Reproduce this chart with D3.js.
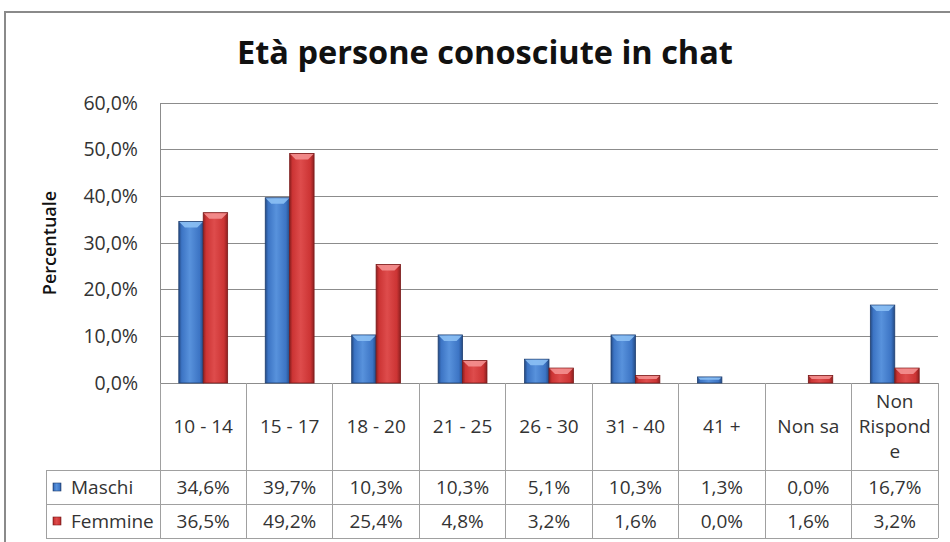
<!DOCTYPE html>
<html><head><meta charset="utf-8">
<script src="https://cdn.jsdelivr.net/npm/d3@7"></script>
<style>
html,body{margin:0;padding:0;background:#fff;}
text{font-family:"Open Sans",sans-serif;}
</style></head>
<body>
<svg id="chart" width="950" height="542"></svg>
<script>
const title = "Età persone conosciute in chat";
const yAxisTitle = "Percentuale";
const categories = ["10 - 14","15 - 17","18 - 20","21 - 25","26 - 30","31 - 40","41 +","Non sa","Non Risponde"];
const categoryLines = [["10 - 14"],["15 - 17"],["18 - 20"],["21 - 25"],["26 - 30"],["31 - 40"],["41 +"],["Non sa"],["Non","Rispond","e"]];
const seriesNames = ["Maschi","Femmine"];
const maschi = [34.6,39.7,10.3,10.3,5.1,10.3,1.3,0.0,16.7];
const femmine = [36.5,49.2,25.4,4.8,3.2,1.6,0.0,1.6,3.2];
const yTicks = [0,10,20,30,40,50,60];
const seriesValues = [maschi, femmine];

const FONT = "'Open Sans',sans-serif";
const svg = d3.select("#chart");
const fmt = v => d3.format(".1f")(v).replace(".", ",") + "%";

const plotL = 160, plotR = 938, plotT = 103, plotB = 383;
const catRowB = 470, row1B = 504, row2B = 538, legendL = 46;

const x = d3.scaleBand().domain(categories).range([plotL, plotR]).padding(0);
const bw = x.bandwidth();
const xs = d3.scaleBand().domain(seriesNames).range([bw*0.2175, bw*0.7825]).padding(0);
const y = d3.scaleLinear().domain([0,60]).range([plotB, plotT]);

// gradients
const defs = svg.append("defs");
const pal = {
  Maschi: {dark:"#244a84", mid:"#3c74c4", light:"#5892dc", top:"#8cc0f4", edge:"#1f3f70"},
  Femmine:{dark:"#8e2020", mid:"#cc3434", light:"#de4c4c", top:"#f49090", edge:"#7a1a1a"}
};
seriesNames.forEach((s,i)=>{
  const g = defs.append("linearGradient").attr("id","g"+i).attr("x1","0").attr("x2","1").attr("y1","0").attr("y2","0");
  g.append("stop").attr("offset","0").attr("stop-color",pal[s].dark);
  g.append("stop").attr("offset","0.12").attr("stop-color",pal[s].mid);
  g.append("stop").attr("offset","0.45").attr("stop-color",pal[s].light);
  g.append("stop").attr("offset","0.85").attr("stop-color",pal[s].mid);
  g.append("stop").attr("offset","1").attr("stop-color",pal[s].dark);
});

// outer frame
svg.append("rect").attr("x",5).attr("y",12).attr("width",980).attr("height",600)
  .attr("fill","#fff").attr("stroke","#8a8a8a").attr("stroke-width",2);

// title
svg.append("text").attr("x",485).attr("y",64).attr("text-anchor","middle")
  .attr("font-size",32.5).attr("font-weight","bold").attr("fill","#111").text(title);

// gridlines
svg.append("g").selectAll("line").data(yTicks).join("line")
  .attr("x1",plotL).attr("x2",plotR).attr("y1",d=>y(d)).attr("y2",d=>y(d))
  .attr("stroke","#8c8c8c").attr("stroke-width",1).attr("shape-rendering","crispEdges");

// y axis
const yAxis = d3.axisLeft(y).tickValues(yTicks).tickFormat(fmt).tickSize(0).tickPadding(22);
const ya = svg.append("g").attr("transform",`translate(${plotL},0)`).call(yAxis);
ya.attr("font-family",FONT).attr("font-size",19.5);
ya.select(".domain").attr("stroke","#8c8c8c").attr("shape-rendering","crispEdges");
ya.selectAll("text").attr("fill","#333");

svg.append("text").attr("transform",`translate(56,${(plotT+plotB)/2}) rotate(-90)`)
  .attr("text-anchor","middle").attr("font-size",18).attr("font-weight","600").attr("fill","#111").text(yAxisTitle);

// bars
const groups = svg.append("g").selectAll("g").data(categories).join("g")
  .attr("transform",d=>`translate(${x(d)},0)`);
seriesNames.forEach((s,si)=>{
  const vals = seriesValues[si];
  groups.filter((d,i)=>vals[i]>0).each(function(d){
    const i = categories.indexOf(d);
    const v = vals[i];
    const g = d3.select(this);
    const bx = xs(s), w = xs.bandwidth(), top = y(v), h = plotB - top;
    g.append("rect").attr("x",bx).attr("y",top).attr("width",w).attr("height",h)
      .attr("fill",`url(#g${si})`).attr("stroke",pal[s].edge).attr("stroke-width",0.8);
    const bev = Math.min(6, h*0.45);
    g.append("path").attr("d",`M${bx+0.5},${top+0.5}L${bx+w-0.5},${top+0.5}L${bx+w-bev},${top+bev}L${bx+bev},${top+bev}Z`)
      .attr("fill",pal[s].top).attr("opacity",0.9);
  });
});

// table lines
const tl = svg.append("g").attr("stroke","#a0a0a0").attr("stroke-width",1).attr("shape-rendering","crispEdges");
const bounds = categories.map(c=>x(c)).concat([plotR]);
tl.selectAll("line.v").data(bounds).join("line").attr("class","v")
  .attr("x1",d=>d).attr("x2",d=>d).attr("y1",plotB).attr("y2",row2B);
[catRowB,row1B,row2B].forEach(yy=>tl.append("line").attr("x1",legendL).attr("x2",plotR).attr("y1",yy).attr("y2",yy));
tl.append("line").attr("x1",legendL).attr("x2",legendL).attr("y1",catRowB).attr("y2",row2B);

// category labels
const lineH = 25;
svg.append("g").selectAll("text").data(categories).join("text")
  .attr("text-anchor","middle").attr("font-size",19).attr("fill","#333")
  .each(function(d,i){
    const lines = categoryLines[i];
    const cy = (plotB+catRowB)/2;
    const t = d3.select(this);
    lines.forEach((ln,k)=>{
      t.append("tspan").attr("x",x(d)+bw/2).attr("y",cy + (k-(lines.length-1)/2)*lineH + 6).text(ln);
    });
  });

// data rows
const rows = [[catRowB,row1B],[row1B,row2B]];
seriesNames.forEach((s,si)=>{
  const cy = (rows[si][0]+rows[si][1])/2;
  svg.append("rect").attr("x",legendL+7).attr("y",cy-4).attr("width",8).attr("height",8)
    .attr("fill",`url(#g${si})`).attr("stroke",pal[s].edge).attr("stroke-width",0.6);
  svg.append("text").attr("x",legendL+25).attr("y",cy+6.5).attr("font-size",19).attr("fill","#333").text(s);
  svg.append("g").selectAll("text").data(seriesValues[si]).join("text")
    .attr("x",(d,i)=>x(categories[i])+bw/2).attr("y",cy+6.5).attr("text-anchor","middle")
    .attr("font-size",19).attr("fill","#333").text(d=>fmt(d));
});
</script>
</body></html>
